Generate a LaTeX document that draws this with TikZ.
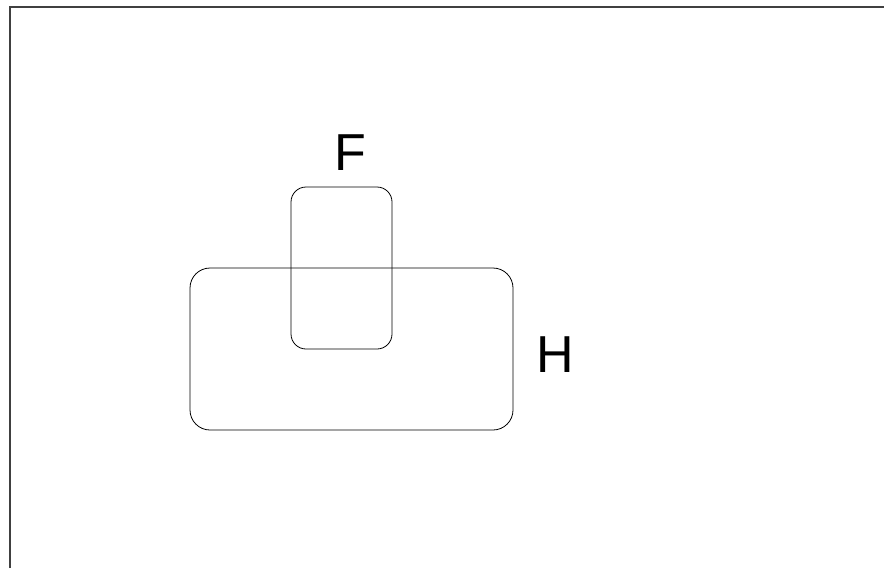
\documentclass[tikz,border=0pt]{standalone}
\usepackage{fontspec}
\setmainfont{Liberation Sans}
\begin{document}
\begin{tikzpicture}[x=1pt,y=-1pt]
\useasboundingbox (0,0) rectangle (884,568);
%frame
\draw[line width=1.2pt,black!75] (10,568) -- (10,7) -- (884,7);
%set H
\draw[black,line width=0.8pt,rounded corners=20] (190,268) rectangle (513,430);
\node[inner sep=0,font=\fontsize{52}{60}\selectfont] (H) at (555,355) {H};
%set F
\draw[black,line width=0.8pt,rounded corners=15] (291,187) rectangle (392,349);
\node[inner sep=0,font=\fontsize{52}{60}\selectfont] (F) at (350,153) {F};
\end{tikzpicture}
\end{document}
